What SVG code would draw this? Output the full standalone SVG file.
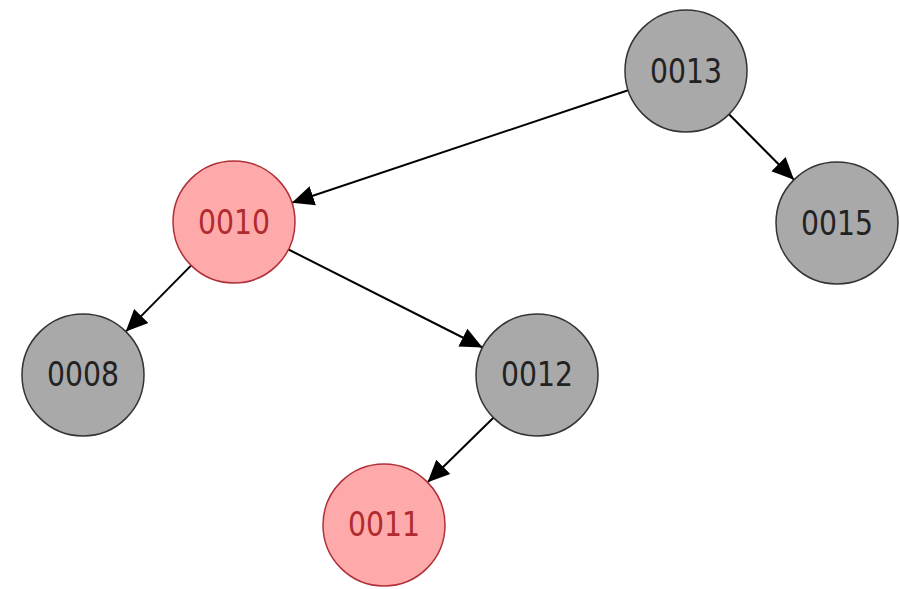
<svg xmlns="http://www.w3.org/2000/svg" width="900" height="589" viewBox="0 0 900 589">
<style>
.edge{stroke:#000;stroke-width:2;fill:none;marker-end:url(#arr)}
.black circle{fill:#a9a9a9;stroke:#333;stroke-width:1.5}
.black text{fill:#222}
.red circle{fill:#ffaaaa;stroke:#b0303a;stroke-width:1.5}
.red text{fill:#b02a30}
text{font-family:"DejaVu Sans",sans-serif;font-size:33px;text-anchor:middle;dominant-baseline:central}
</style>
<defs>
<marker id="arr" markerUnits="userSpaceOnUse" markerWidth="24" markerHeight="22" refX="22" refY="10" orient="auto" viewBox="0 0 24 20">
<path d="M0,0 L22,10 L0,20 Z" fill="#000"/>
</marker>
</defs>
<rect width="900" height="589" fill="#fff"/>
<g id="edges">
<line class="edge" x1="628.1" y1="90.3" x2="291.9" y2="202.7"/>
<line class="edge" x1="729" y1="114.3" x2="794" y2="179.7"/>
<line class="edge" x1="191.2" y1="265.4" x2="125.8" y2="331.6"/>
<line class="edge" x1="288.5" y1="249.5" x2="482.5" y2="347.5"/>
<line class="edge" x1="493.4" y1="417.7" x2="427.6" y2="482.3"/>
</g>
<g id="n0013" class="black"><circle cx="686" cy="71" r="61"/><text x="686" y="71" textLength="72" lengthAdjust="spacingAndGlyphs">0013</text></g>
<g id="n0010" class="red"><circle cx="234" cy="222" r="61"/><text x="234" y="222" textLength="72" lengthAdjust="spacingAndGlyphs">0010</text></g>
<g id="n0015" class="black"><circle cx="837" cy="223" r="61"/><text x="837" y="223" textLength="72" lengthAdjust="spacingAndGlyphs">0015</text></g>
<g id="n0008" class="black"><circle cx="83" cy="375" r="61"/><text x="83" y="374" textLength="72" lengthAdjust="spacingAndGlyphs">0008</text></g>
<g id="n0012" class="black"><circle cx="537" cy="375" r="61"/><text x="537" y="374" textLength="72" lengthAdjust="spacingAndGlyphs">0012</text></g>
<g id="n0011" class="red"><circle cx="384" cy="525" r="61"/><text x="384" y="524" textLength="72" lengthAdjust="spacingAndGlyphs">0011</text></g>
</svg>
